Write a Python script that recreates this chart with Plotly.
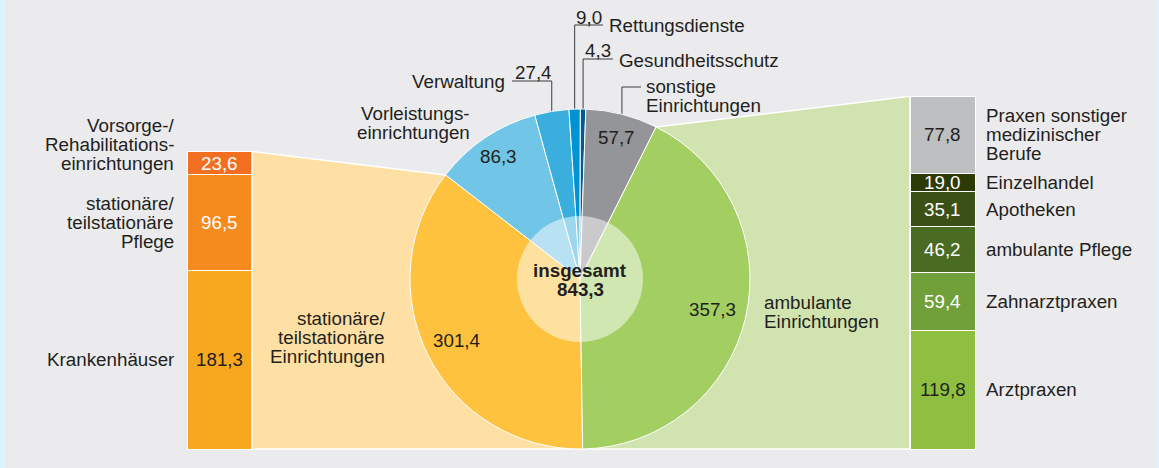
import math
import plotly.graph_objects as go

# ---------------- data ----------------
pie_labels = ["stationäre/teilstationäre Einrichtungen", "Vorleistungseinrichtungen", "Verwaltung",
              "Rettungsdienste", "Gesundheitsschutz", "sonstige Einrichtungen", "ambulante Einrichtungen"]
pie_values = [301.4, 86.3, 27.4, 9.0, 4.3, 57.7, 357.3]
pie_colors = ["#FFC23E", "#71C5E6", "#3AAEDD", "#0093D3", "#005B8E", "#949598", "#A3CE62"]
total_text = "843,3"

left_labels = [["Krankenhäuser"], ["stationäre/", "teilstationäre", "Pflege"],
               ["Vorsorge-/", "Rehabilitations-", "einrichtungen"]]
left_values = [181.3, 96.5, 23.6]
left_colors = ["#F8A81E", "#F58A1F", "#F26F21"]
left_text_colors = ["#231F20", "white", "white"]

right_labels = [["Arztpraxen"], ["Zahnarztpraxen"], ["ambulante Pflege"], ["Apotheken"],
                ["Einzelhandel"], ["Praxen sonstiger", "medizinischer", "Berufe"]]
right_values = [119.8, 59.4, 46.2, 35.1, 19.0, 77.8]
right_colors = ["#8FBF40", "#71A03A", "#4A6B22", "#3B5014", "#2C3A06", "#BEBFC1"]
right_text_colors = ["#231F20", "white", "white", "white", "white", "#231F20"]

# ---------------- layout constants ----------------
W, H = 1159, 468
CX, CY, R = 580, 279, 170
BASE = 449          # pixel row of value 0
K = 0.987           # pixels per value unit
ROT = 179.1         # start angle of first slice (clockwise from 12 o'clock)
FONT = "Liberation Sans, Arial, Helvetica, sans-serif"
FS = 18.8
TXT = "#231F20"
LINE_H = 19

def fmt(v):
    return f"{v:.1f}".replace(".", ",")

def dy(py):
    return (BASE - py) / K

total = sum(pie_values)

def angle_at(val):
    return math.radians(ROT + val / total * 360.0)

def pt(a, r):
    return CX + r * math.sin(a), CY - r * math.cos(a)

cum = [0]
for v in pie_values:
    cum.append(cum[-1] + v)
mid_angles = [angle_at(cum[i] + pie_values[i] / 2) for i in range(len(pie_values))]

fig = go.Figure()

annotations = []
def text_block(lines, x, y_first, anchor, color=TXT, bold=False, size=FS):
    for i, ln in enumerate(lines):
        t = f"<b>{ln}</b>" if bold else ln
        annotations.append(dict(x=x, y=dy(y_first + i * LINE_H), xref="x", yref="y", text=t,
                                showarrow=False, xanchor=anchor, yanchor="middle",
                                font=dict(family=FONT, size=size, color=color)))

# ---------------- connector polygons ----------------
LBAR_X, RBAR_X, BAR_W = 219.5, 942.5, 65
ltop = BASE - sum(left_values) * K
rtop = BASE - sum(right_values) * K
bottom_pt = pt(angle_at(0), R)
lb = pt(angle_at(cum[1]), R)
rb = pt(angle_at(cum[-2]), R)

lpoly = [(LBAR_X + BAR_W / 2, ltop), lb, (CX, CY), bottom_pt, (LBAR_X + BAR_W / 2, BASE)]
rpoly = [(RBAR_X - BAR_W / 2, rtop), rb, (CX, CY), bottom_pt, (RBAR_X - BAR_W / 2, BASE)]
for poly, col in [(lpoly, "#FFE0A4"), (rpoly, "#D1E4B0")]:
    fig.add_trace(go.Scatter(x=[p[0] for p in poly] + [poly[0][0]],
                             y=[dy(p[1]) for p in poly] + [dy(poly[0][1])],
                             fill="toself", fillcolor=col, mode="lines",
                             line=dict(color="white", width=1.5), hoverinfo="skip", showlegend=False))

# ---------------- bars ----------------
def add_bar(xc, values, colors, tcolors, labels, label_x, label_anchor, anchor_lines):
    c = 0
    for v, col, tc, lab, al in zip(values, colors, tcolors, labels, anchor_lines):
        fig.add_trace(go.Bar(x=[xc], y=[v], width=[BAR_W], marker=dict(color=col, line=dict(color="white", width=1)),
                             hoverinfo="skip", showlegend=False))
        center_px = BASE - (c + v / 2) * K
        text_block([fmt(v)], xc, center_px, "center", color=tc)
        text_block(lab, label_x, center_px - al * LINE_H, label_anchor)
        c += v

add_bar(LBAR_X, left_values, left_colors, left_text_colors, left_labels, 176, "right", [0, 1, 2])
add_bar(RBAR_X, right_values, right_colors, right_text_colors, right_labels, 984, "left", [0, 0, 0, 0, 0, 1])

# ---------------- pie ----------------
fig.add_trace(go.Pie(values=pie_values, labels=pie_labels, sort=False, direction="clockwise",
                     rotation=ROT, marker=dict(colors=pie_colors, line=dict(color="white", width=1)),
                     textinfo="none", hoverinfo="label+value", showlegend=False,
                     domain=dict(x=[(CX - R) / W, (CX + R) / W], y=[(H - CY - R) / H, (H - CY + R) / H])))

# inside values
inside_r = {0: 138, 1: 147, 5: 146, 6: 136}
for i, r in inside_r.items():
    x, y = pt(mid_angles[i], r)
    text_block([fmt(pie_values[i])], x, y, "center")

# leader lines for small slices: (index, level_y, end_x)
leaders = [(2, 81, 512), (3, 25, 603), (4, 59, 613), (5, 87, 641)]
for i, lvl, xe in leaders:
    x0, y0 = pt(mid_angles[i], R)
    fig.add_trace(go.Scatter(x=[x0, x0, xe], y=[dy(y0), dy(lvl), dy(lvl)], mode="lines",
                             line=dict(color="#3C3C3C", width=1), hoverinfo="skip", showlegend=False))

# leader texts
text_block([fmt(pie_values[2])], 533, 72, "center")
text_block(["Verwaltung"], 507, 81, "right")
text_block([fmt(pie_values[3])], 589, 17, "center")
text_block(["Rettungsdienste"], 607, 25, "left")
text_block([fmt(pie_values[4])], 598, 50, "center")
text_block(["Gesundheitsschutz"], 617, 60, "left")
text_block(["sonstige", "Einrichtungen"], 644, 86, "left")
text_block(["Vorleistungs-", "einrichtungen"], 472, 113, "right")
text_block(["stationäre/", "teilstationäre", "Einrichtungen"], 387, 318, "right")
text_block(["ambulante", "Einrichtungen"], 762, 302, "left")
text_block(["insgesamt", total_text], CX, 270, "center", bold=True)

shapes = [
    dict(type="rect", xref="paper", yref="paper", x0=0, x1=6 / W, y0=0, y1=1,
         fillcolor="#DFF1FA", line=dict(width=0), layer="below"),
    dict(type="rect", xref="paper", yref="paper", x0=1156 / W, x1=1, y0=0, y1=1,
         fillcolor="#DFF1FA", line=dict(width=0), layer="below"),
    dict(type="circle", xref="x", yref="y", x0=CX - 63, x1=CX + 63, y0=dy(CY + 63), y1=dy(CY - 63),
         fillcolor="rgba(255,255,255,0.5)", line=dict(width=0), layer="above"),
]

fig.update_layout(
    width=W, height=H, autosize=False,
    margin=dict(l=0, r=0, t=0, b=0, pad=0),
    paper_bgcolor="#EBEBED", plot_bgcolor="rgba(0,0,0,0)",
    barmode="stack",
    xaxis=dict(range=[0, W], visible=False, fixedrange=True),
    yaxis=dict(range=[dy(H), dy(0)], visible=False, fixedrange=True),
    annotations=annotations, shapes=shapes,
    font=dict(family=FONT, size=FS, color=TXT),
)

fig.write_html("out.html", config={"displayModeBar": False},
               post_script="document.body.style.margin='0';document.body.style.padding='0';")
